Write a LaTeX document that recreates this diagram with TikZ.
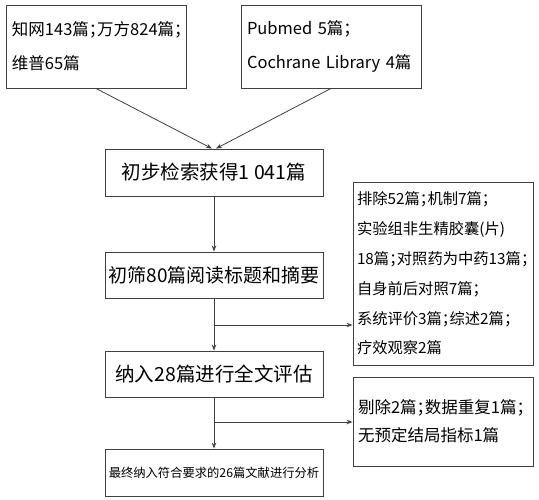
\documentclass[tikz,border=0pt]{standalone}
\usepackage{fontspec}
\usetikzlibrary{arrows.meta}
\setmainfont{Noto Sans CJK SC}[CharacterWidth=AlternateHalf]
\tikzset{
	box/.style={draw=black!75,line width=.9pt,inner sep=0pt},
}
\begin{document}
\begin{tikzpicture}[x=1pt,y=-1pt,>={Stealth[length=6pt,width=4.5pt]},line width=.8pt,draw=black!75]
			\useasboundingbox (0,0) rectangle (539,500);
			\node[box,minimum width=180pt,minimum height=83pt,text width=168pt,align=left,font=\fontsize{16.5}{34}\selectfont](zw) at (96,46.5) {知网143篇；万方824篇；\\维普65篇};
			\node[box,minimum width=180pt,minimum height=83pt,text width=168pt,align=left,font=\fontsize{16.5}{34}\selectfont](pm) at (331,46.5) {Pubmed 5篇；\\Cochrane Library 4篇};
			\node[box,minimum width=218pt,minimum height=47pt,font=\fontsize{19.5}{23}\selectfont](cj) at (214,172.5) {初步检索获得1 041篇};
			\node[box,minimum width=218pt,minimum height=46pt,font=\fontsize{19}{23}\selectfont](cs) at (214,275) {初筛80篇阅读标题和摘要};
			\node[box,minimum width=218pt,minimum height=46pt,font=\fontsize{19.5}{23}\selectfont](qw) at (214,374) {纳入28篇进行全文评估};
			\node[box,minimum width=218pt,minimum height=47pt,font=\fontsize{12.3}{15}\selectfont](zz) at (214,472.5) {最终纳入符合要求的26篇文献进行分析};
			\node[box,minimum width=180pt,minimum height=183pt,text width=172pt,align=left,font=\fontsize{15.3}{29.8}\selectfont](pc1) at (443,273.5) {排除52篇；机制7篇；\\实验组非生精胶囊(片)\\18篇；对照药为中药13篇；\\自身前后对照7篇；\\系统评价3篇；综述2篇；\\疗效观察2篇};
			\node[box,minimum width=180pt,minimum height=89pt,text width=170pt,align=left,font=\fontsize{16.5}{28}\selectfont](pc2) at (443,421.5) {剔除2篇；数据重复1篇；\\无预定结局指标1篇};
			\coordinate (f1) at (214,325);
			\coordinate (f2) at (214,422);
			\draw[->](zw.south)--([xshift=-2pt]cj.north);
			\draw[->](pm.south)--([xshift=2pt]cj.north);
			\draw[->](cj.south)--(cs.north);
			\draw[->](cs.south)--(qw.north);
			\draw[->](f1)--(f1-|pc1.west);
			\draw[->](qw.south)--(zz.north);
			\draw[->](f2)--(f2-|pc2.west);
\end{tikzpicture}
\end{document}
